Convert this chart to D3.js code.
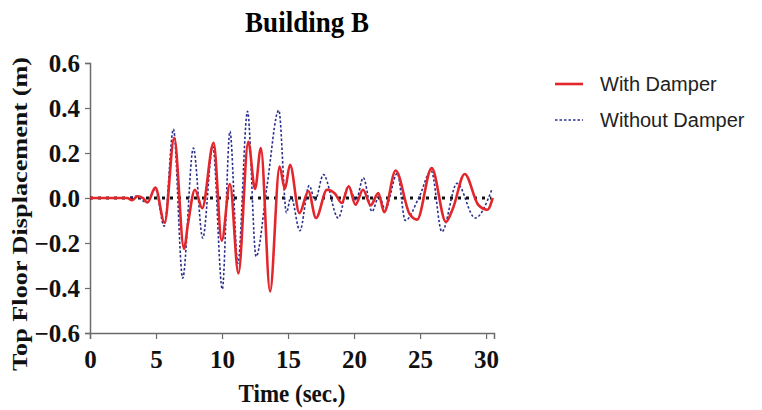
<!DOCTYPE html>
<html>
<head>
<meta charset="utf-8">
<script src="https://cdn.jsdelivr.net/npm/d3@7/dist/d3.min.js"></script>
<style>
  html, body { margin: 0; padding: 0; background: #fff; }
  svg { display: block; }
</style>
</head>
<body>
<svg id="chart" width="762" height="410"></svg>
<script>
// Top floor displacement time history, Building B
const timeWith = [0, 1, 2, 2.8, 3.2, 3.6, 4.0, 4.35, 4.95, 5.65, 6.38, 7.12, 7.42, 7.95, 8.5, 9.36, 9.98, 10.6, 11.24, 11.99, 12.5, 12.94, 13.64, 14.36, 14.76, 15.15, 15.86, 16.54, 17.12, 17.95, 18.56, 19.06, 19.6, 20.1, 20.68, 21.26, 21.84, 22.28, 23.15, 24.2, 24.78, 25.88, 26.96, 27.5, 28.38, 29.4, 30.1, 30.5];
const dispWith = [0, 0, 0, 0, -0.01, 0.008, 0, -0.02, 0.046, -0.11, 0.267, -0.226, -0.115, 0.037, -0.045, 0.245, -0.19, 0.062, -0.335, 0.25, 0.04, 0.222, -0.415, 0.14, 0.04, 0.148, -0.067, 0.03, -0.089, 0.037, 0.019, -0.022, 0.052, -0.03, 0.037, -0.032, 0.022, -0.063, 0.122, -0.07, -0.096, 0.133, -0.106, -0.044, 0.107, -0.03, -0.052, 0.0];

const timeWithout = [0, 2.8, 3.5, 4.3, 4.95, 5.62, 6.32, 7.02, 7.83, 8.54, 9.3, 10.02, 10.6, 11.2, 11.93, 12.58, 13.4, 14.3, 14.88, 15.22, 15.9, 16.6, 17.05, 17.68, 18.8, 19.57, 20.15, 20.7, 21.36, 21.9, 22.35, 23.28, 23.88, 24.9, 25.85, 26.65, 27.8, 29.17, 30.45];
const dispWithout = [0, 0, 0.008, -0.02, 0.04, -0.125, 0.306, -0.356, 0.222, -0.178, 0.23, -0.405, 0.296, -0.29, 0.385, -0.26, 0.05, 0.39, -0.065, 0.007, -0.145, 0.055, -0.01, 0.104, -0.089, 0.052, -0.01, 0.09, -0.06, 0.01, -0.05, 0.11, -0.1, 0.0, 0.12, -0.15, 0.065, -0.089, 0.04];

const xTicks = [0, 5, 10, 15, 20, 25, 30];
const yTicks = [-0.6, -0.4, -0.2, 0.0, 0.2, 0.4, 0.6];
const seriesNames = ["With Damper", "Without Damper"];

const svg = d3.select("#chart");
const serif = "'Liberation Serif', 'Times New Roman', serif";
const sans = "'Liberation Sans', Arial, sans-serif";
const axisColor = "#6b6b6b";
const red = "#e3262b";
const navy = "#2a2f8c";

const x = d3.scaleLinear().domain([0, 30.6]).range([90, 494]);
const y = d3.scaleLinear().domain([-0.6, 0.6]).range([333, 63]);

// Title
svg.append("text")
  .attr("transform", "translate(307,32) scale(1,1.12)")
  .attr("text-anchor", "middle")
  .attr("font-family", serif).attr("font-weight", "bold")
  .attr("font-size", 27)
  .text("Building B");

// Axes
const xAxis = d3.axisBottom(x).tickValues(xTicks).tickFormat(d3.format("d")).tickSize(6).tickPadding(12);
const yAxis = d3.axisLeft(y).tickValues(yTicks).tickFormat(d3.format(".1f")).tickSize(5).tickPadding(5);

const gx = svg.append("g").attr("transform", `translate(0,${y(-0.6)})`).call(xAxis);
const gy = svg.append("g").attr("transform", `translate(${x(0)},0)`).call(yAxis);

[gx, gy].forEach(g => {
  g.select(".domain").attr("stroke", axisColor).attr("stroke-width", 1.5);
  g.selectAll(".tick line").attr("stroke", axisColor).attr("stroke-width", 1.2);
  g.selectAll(".tick text")
    .attr("font-family", serif).attr("font-weight", "bold")
    .attr("font-size", 25).attr("fill", "#111");
});
gy.selectAll(".tick text").attr("dy", "0.33em");
gx.selectAll(".tick text").attr("dy", "0.68em");

// Axis titles
svg.append("text")
  .attr("transform", "translate(292,402) scale(1,1.1)")
  .attr("text-anchor", "middle")
  .attr("font-family", serif).attr("font-weight", "bold")
  .attr("font-size", 23).attr("fill", "#111")
  .text("Time (sec.)");

svg.append("text")
  .attr("transform", `translate(27,214) rotate(-90)`)
  .attr("text-anchor", "middle")
  .attr("font-family", serif).attr("font-weight", "bold")
  .attr("font-size", 21).attr("fill", "#111")
  .attr("textLength", 314).attr("lengthAdjust", "spacingAndGlyphs")
  .text("Top Floor Displacement (m)");

// Zero reference line
svg.append("line")
  .attr("x1", x(0)).attr("x2", x(30.4))
  .attr("y1", y(0)).attr("y2", y(0))
  .attr("stroke", "#111").attr("stroke-width", 3)
  .attr("stroke-dasharray", "3,5");

const line = d3.line().curve(d3.curveMonotoneX).x(d => x(d[0])).y(d => y(d[1]));

const withoutData = timeWithout.map((t, i) => [t, dispWithout[i]]);
const withData = timeWith.map((t, i) => [t, dispWith[i]]);

svg.append("path").datum(withoutData)
  .attr("d", line).attr("fill", "none")
  .attr("stroke", navy).attr("stroke-width", 1.6)
  .attr("stroke-dasharray", "2.5,2");

svg.append("path").datum(withData)
  .attr("d", line).attr("fill", "none")
  .attr("stroke", red).attr("stroke-width", 2.6)
  .attr("stroke-linejoin", "round");

// Legend
const legend = svg.append("g");
legend.append("line").attr("x1", 555).attr("x2", 583).attr("y1", 84).attr("y2", 84)
  .attr("stroke", red).attr("stroke-width", 2.6);
legend.append("line").attr("x1", 555).attr("x2", 583).attr("y1", 120).attr("y2", 120)
  .attr("stroke", navy).attr("stroke-width", 1.4).attr("stroke-dasharray", "2.5,2");
legend.selectAll("text.lbl").data(seriesNames).enter().append("text")
  .attr("class", "lbl")
  .attr("x", 600).attr("y", (d, i) => 91 + i * 36)
  .attr("font-family", sans).attr("font-size", 20).attr("fill", "#222")
  .text(d => d);
</script>
</body>
</html>
